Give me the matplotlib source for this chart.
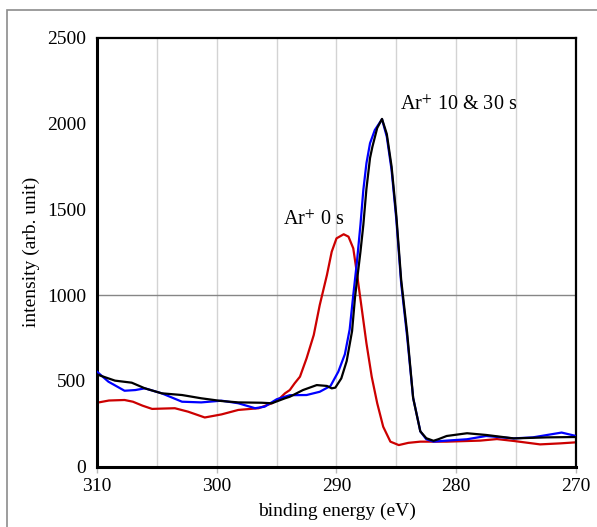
import matplotlib
matplotlib.use("Agg")
import matplotlib.pyplot as plt
from matplotlib.patches import Rectangle

plt.rcParams['font.family'] = ['Liberation Serif', 'DejaVu Serif']
plt.rcParams['mathtext.fontset'] = 'stix'

# Ar+ 0 s (red)
e_red = [310.0, 309.0, 307.7, 307.0, 306.2, 305.4, 304.5, 303.5, 302.4, 301.0, 300.3,
         299.6, 298.2, 296.5, 295.4, 294.7, 294.3, 293.9, 293.5, 293.05, 292.5, 291.9,
         291.4, 290.8, 290.4, 290.0, 289.4, 289.0, 288.6, 288.3, 287.9, 287.5, 287.06,
         286.6, 286.1, 285.5, 284.8, 284.0, 283.0, 280.8, 278.0, 276.6, 275.2, 273.0,
         271.3, 270.0]
i_red = [372, 385, 388, 378, 355, 336, 338, 340, 320, 286, 295,
         304, 330, 340, 369, 400, 427, 446, 485, 524, 631, 767,
         942, 1117, 1253, 1331, 1355, 1341, 1273, 1130, 925, 719, 524,
         369, 232, 145, 125, 138, 145, 145, 151, 160, 149, 129,
         135, 141]

# Ar+ 10 s (blue)
e_blue = [310.0, 309.05, 307.7, 306.8, 306.0, 304.6, 302.9, 301.3, 299.6, 298.2, 296.8,
          296.0, 295.0, 293.9, 292.5, 291.4, 290.5, 289.85, 289.3, 288.9, 288.6, 288.3,
          288.0, 287.76, 287.5, 287.2, 286.8, 286.2, 285.8, 285.4, 285.0, 284.6, 284.1,
          283.6, 283.0, 282.5, 281.9, 280.8, 279.1, 277.5, 275.2, 273.6, 272.4, 271.2,
          270.0]
i_blue = [553, 495, 442, 446, 456, 427, 378, 374, 384, 369, 340,
          349, 392, 416, 417, 436, 470, 553, 655, 800, 1000, 1190,
          1410, 1613, 1769, 1886, 1963, 2026, 1924, 1730, 1438, 1069, 757,
          400, 205, 159, 145, 151, 159, 178, 164, 170, 184, 198,
          178]

# Ar+ 30 s (black)
e_black = [310.0, 308.5, 307.1, 306.0, 304.6, 302.9, 301.3, 299.6, 298.2, 296.25, 295.4,
           294.3, 293.9, 292.8, 291.65, 290.8, 290.4, 290.1, 289.6, 289.15, 288.7, 288.45,
           288.0, 287.76, 287.5, 287.2, 287.0, 286.6, 286.2, 285.8, 285.4, 285.0, 284.6,
           284.1, 283.6, 283.0, 282.5, 281.9, 281.5, 280.8, 279.1, 277.5, 275.2, 272.4,
           270.0]
i_black = [537, 501, 489, 456, 427, 417, 398, 382, 374, 372, 369,
           398, 407, 446, 475, 470, 456, 460, 514, 615, 790, 990,
           1253, 1409, 1620, 1800, 1866, 1975, 2028, 1940, 1750, 1460, 1090,
           780, 400, 205, 165, 150, 159, 178, 194, 184, 164, 170,
           172]

label_0s = r"Ar$^{+}$ 0 s"
label_10_30s = r"Ar$^{+}$ 10 & 30 s"

W, H = 597, 527
fig = plt.figure(figsize=(W / 100, H / 100), dpi=100)
ax = fig.add_axes([97 / W, 1 - 466.5 / H, (576 - 97) / W, (466.5 - 38) / H])

# outer frame
fig.patches.append(Rectangle((7 / W, -0.1), 1.2, 1 - 10 / H + 0.1,
                             transform=fig.transFigure, fill=False,
                             edgecolor='#8c8c8c', linewidth=1.2, clip_on=False))

for x in [305, 300, 295, 290, 285, 280, 275]:
    ax.axvline(x, color='#d3d3d3', linewidth=1.0, zorder=0)
ax.axhline(1000, color='#868686', linewidth=1.0, zorder=0)

ax.plot(e_red, i_red, color='#cc0000', linewidth=1.6, zorder=2)
ax.plot(e_blue, i_blue, color='#0000ff', linewidth=1.6, zorder=3)
ax.plot(e_black, i_black, color='black', linewidth=1.6, zorder=4)

ax.set_xlim(310, 270)
ax.set_ylim(0, 2500)
ax.set_xticks([310, 300, 290, 280, 270])
ax.set_yticks([0, 500, 1000, 1500, 2000, 2500])
ax.tick_params(axis='both', labelsize=14, length=4, width=1, color='#bbbbbb',
               direction='out', pad=4)
ax.tick_params(axis='y', length=0, pad=8)
for s in ax.spines.values():
    s.set_linewidth(1.6)
    s.set_color('black')
ax.spines['left'].set_linewidth(2.2)
ax.spines['bottom'].set_linewidth(2.2)

ax.set_xlabel('binding energy (eV)', fontsize=14, labelpad=6)
ax.set_ylabel('intensity (arb. unit)', fontsize=14, labelpad=5)

ax.text(294.47, 1409, label_0s, fontsize=14.5, ha='left', va='baseline')
ax.text(284.7, 2080, label_10_30s, fontsize=14.5, ha='left', va='baseline')

fig.savefig('out.png', dpi=100)
